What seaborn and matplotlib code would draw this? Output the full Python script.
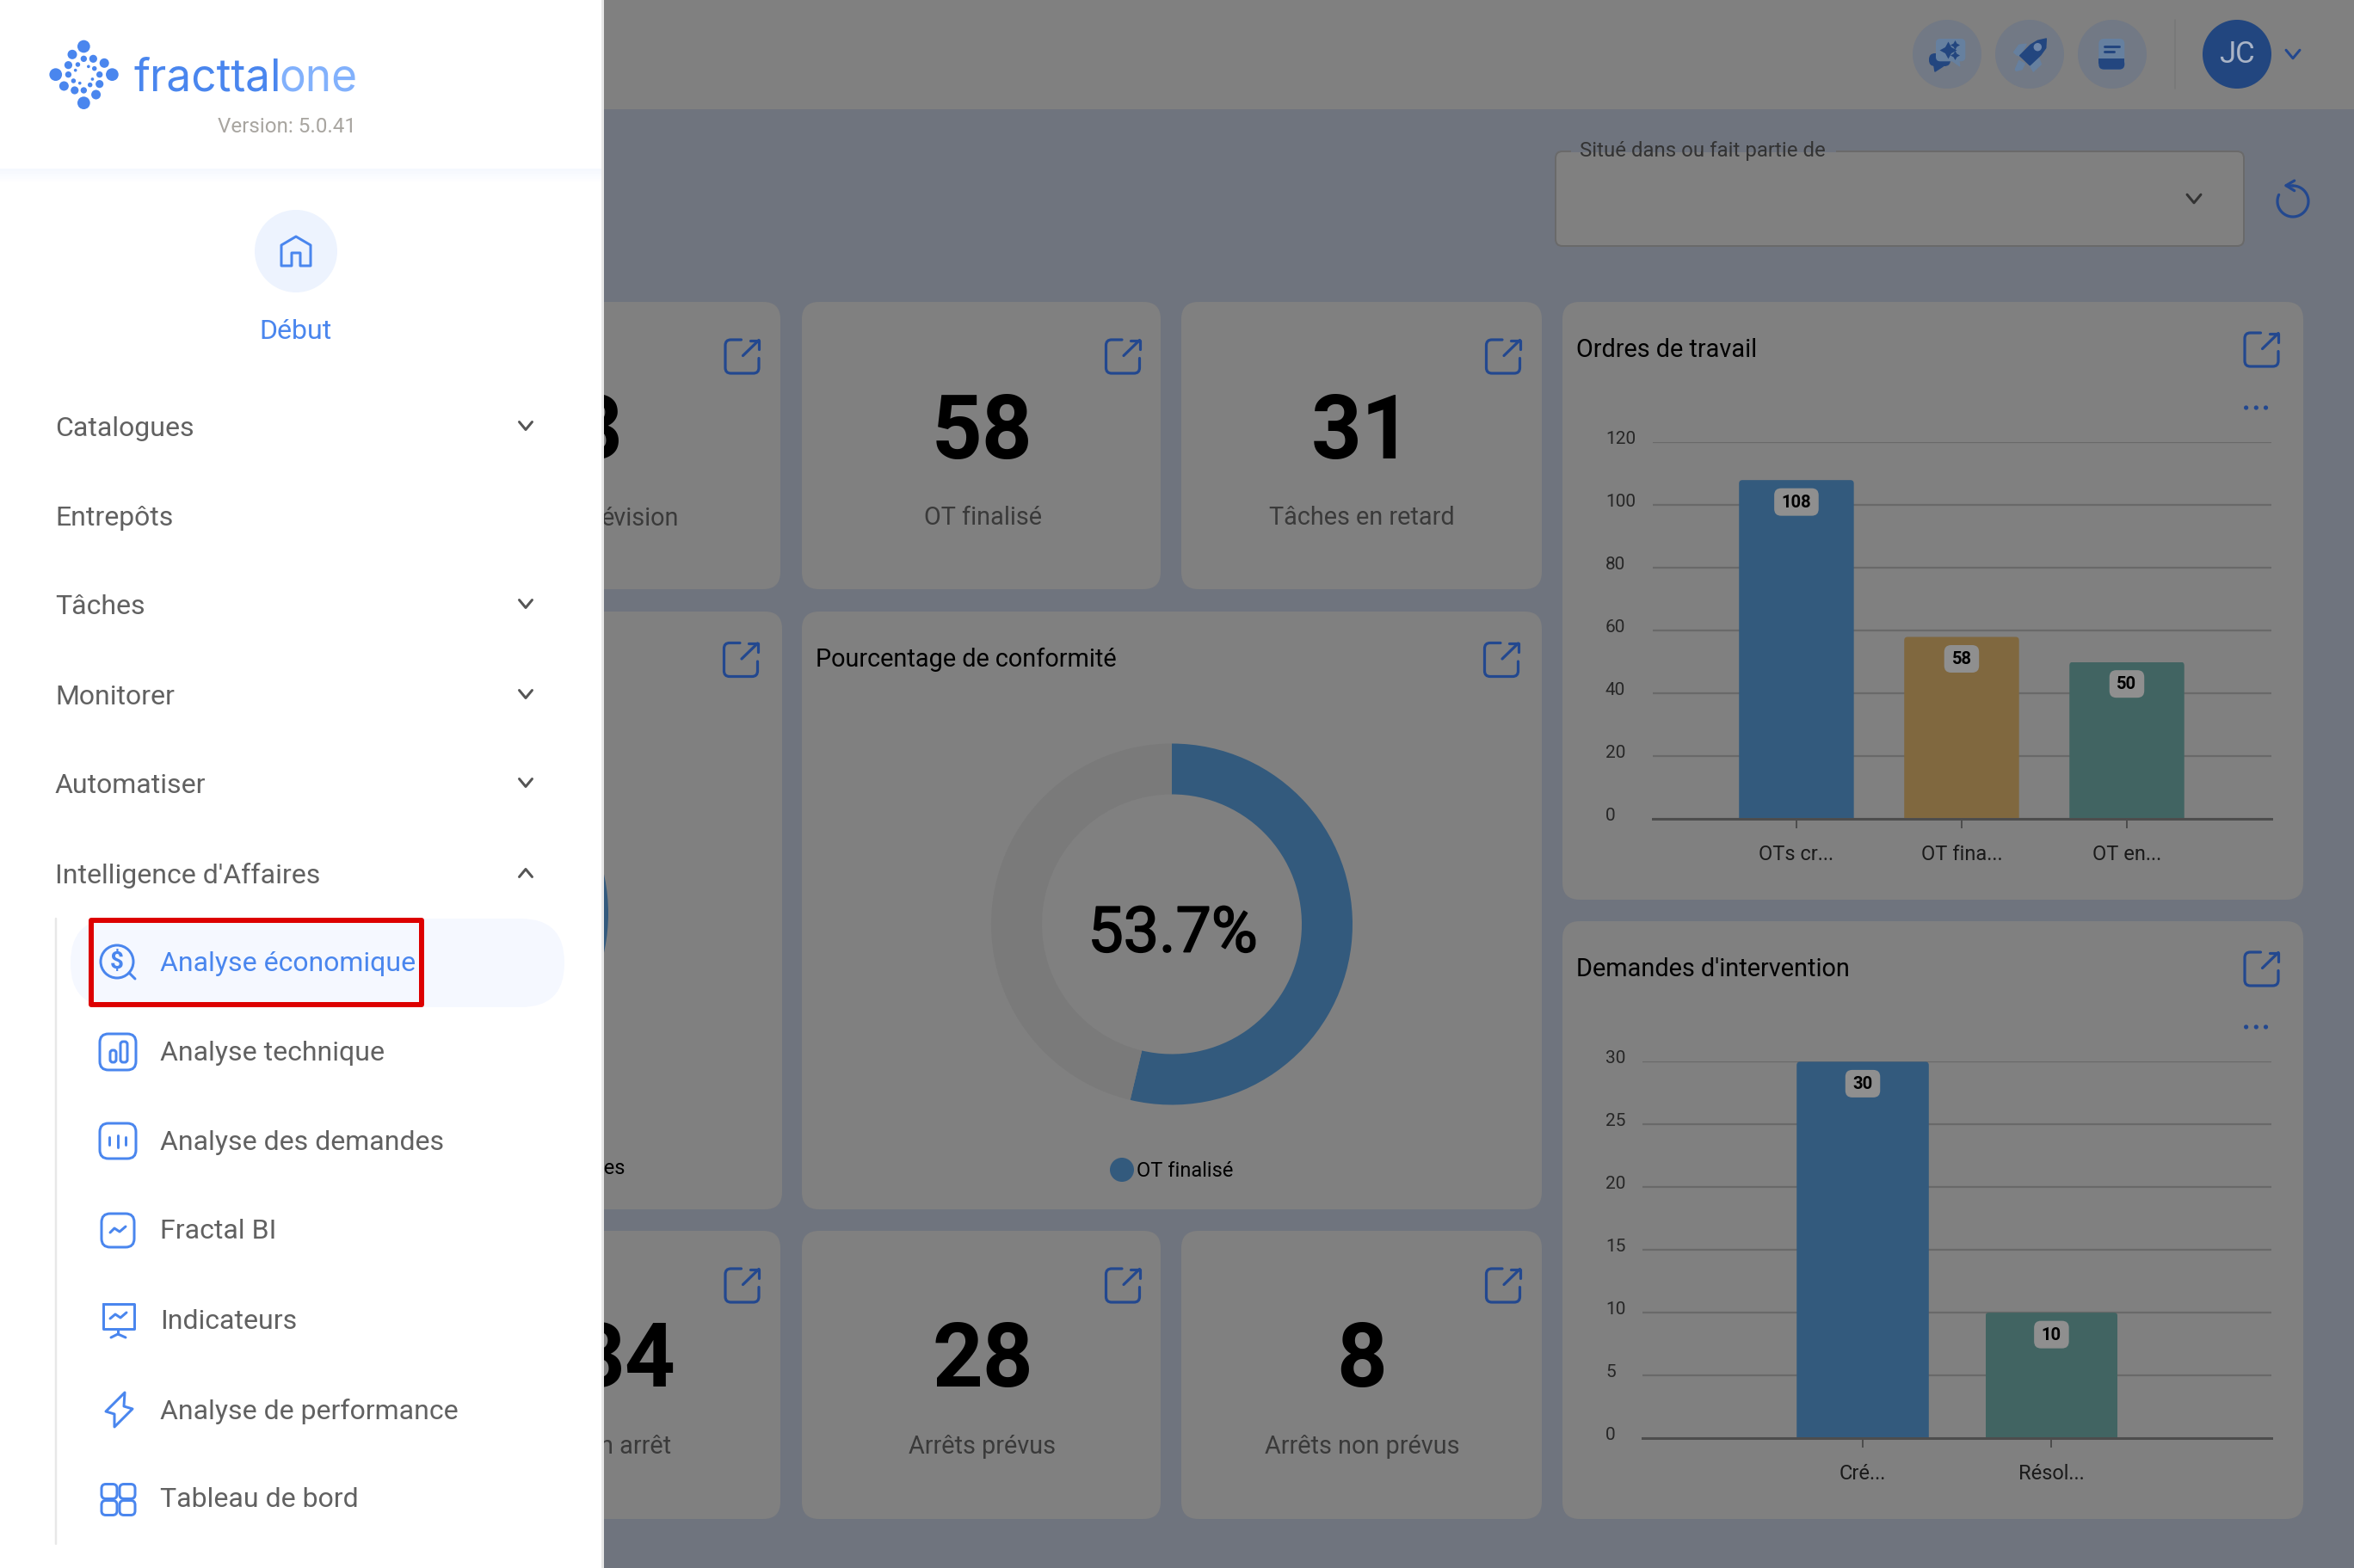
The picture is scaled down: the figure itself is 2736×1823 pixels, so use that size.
import numpy as np
import matplotlib
matplotlib.use("Agg")
import matplotlib.pyplot as plt
from matplotlib.patches import FancyBboxPatch, Rectangle, Circle, Polygon, PathPatch
from matplotlib.path import Path
from matplotlib.transforms import Affine2D, ScaledTranslation, IdentityTransform
import matplotlib.patheffects as pe
import seaborn as sns

# ---------- data ----------
wo_labels = ["OTs cr...", "OT fina...", "OT en..."]
wo_values = [108, 58, 50]
wo_colors = ["#335a7d", "#80683f", "#416462"]
wo_ticks = [0, 20, 40, 60, 80, 100, 120]

di_labels = ["Cré...", "Résol..."]
di_values = [30, 10]
di_colors = ["#335a7d", "#416462"]
di_ticks = [0, 5, 10, 15, 20, 25, 30]

compliance_values = [53.7, 46.3]
compliance_colors = ["#335a7d", "#7a7a7a"]
compliance_text = "53.7%"
compliance_legend = "OT finalisé"

kpi_numbers = ["58", "31", "28", "8"]
kpi_labels = ["OT finalisé", "Tâches en retard", "Arrêts prévus", "Arrêts non prévus"]

main_menu = ["Catalogues", "Entrepôts", "Tâches", "Monitorer", "Automatiser", "Intelligence d'Affaires"]
sub_menu = ["Analyse économique", "Analyse technique", "Analyse des demandes", "Fractal BI",
            "Indicateurs", "Analyse de performance", "Tableau de bord"]

# ---------- palette ----------
BG = "#6f747e"
CARD = "#808080"
GRID = "#696969"
AXISC = "#4d4d4d"
NAVY = "#23488f"
BLUE = "#4a86ee"
GREYT = "#616161"
ICON_DARK = "#23467f"
ICON_LIGHT = "#66809f"
W, H = 2736, 1824

sns.set_theme(style="white")
plt.rcParams["font.family"] = ["Roboto", "DejaVu Sans"]

fig = plt.figure(figsize=(W / 100, H / 100), dpi=100, facecolor=BG)
ui = fig.add_axes([0, 0, 1, 1], zorder=0)
ui.set_xlim(0, W)
ui.set_ylim(H, 0)
ui.axis("off")
ui.autoscale(False)


def px(v):
    return v * 0.72


def T(x, y, s, size, color="black", ha="center", va="center", weight="normal", z=5, family=None):
    kw = {}
    if family:
        kw["family"] = family
    dy = 2.5 if va == "center" else 0
    return ui.text(x, y + dy, s, fontsize=size, color=color, ha=ha, va=va, weight=weight, zorder=z, **kw)


def rbox(x0, y0, x1, y1, r, fc="none", ec="none", lw=0, z=1):
    p = FancyBboxPatch((x0, y0), x1 - x0, y1 - y0, boxstyle=f"round,pad=0,rounding_size={r}",
                       fc=fc, ec=ec, lw=px(lw), zorder=z)
    ui.add_patch(p)
    return p


def rect(x0, y0, x1, y1, fc, z=1):
    ui.add_patch(Rectangle((x0, y0), x1 - x0, y1 - y0, fc=fc, ec="none", zorder=z))


def poly(pts, fc, z=4):
    ui.add_patch(Polygon(pts, closed=True, fc=fc, ec=fc, lw=px(1.5), joinstyle="round", zorder=z))


def line(xs, ys, color, lw=3, z=6):
    ui.plot(xs, ys, color=color, lw=px(lw), solid_capstyle="round", solid_joinstyle="round", zorder=z)


def chevron(x, y, color, up=False, s=7.5, lw=3, z=6):
    d = -s * 0.6 if up else s * 0.6
    line([x - s, x, x + s], [y - d, y + d, y - d], color, lw, z)


def open_icon(cx, cy, color=NAVY):
    v = [(-1, -19.5), (-13, -19.5), (-19.5, -19.5), (-19.5, -13), (-19.5, 13), (-19.5, 19.5), (-13, 19.5),
         (13, 19.5), (19.5, 19.5), (19.5, 13), (19.5, 2)]
    c = [Path.MOVETO, Path.LINETO, Path.CURVE3, Path.CURVE3, Path.LINETO, Path.CURVE3, Path.CURVE3,
         Path.LINETO, Path.CURVE3, Path.CURVE3, Path.LINETO]
    ui.add_patch(PathPatch(Path([(cx + a, cy + b) for a, b in v], c), fc="none", ec=color, lw=px(3.2), zorder=6,
                           capstyle="round"))
    line([cx + 1, cx + 19.5], [cy - 1, cy - 19], color, 3.2)
    line([cx + 9, cx + 19.5, cx + 19.5], [cy - 19, cy - 19, cy - 9], color, 3.2)


# ---------- page skeleton ----------
rect(700, 0, W, 128, CARD)

# cards
for x0, x1, y0, y1 in [(640, 907, 352, 686), (932, 1349, 352, 686), (1373, 1792, 352, 686),
                       (640, 909, 712, 1407), (932, 1792, 712, 1407),
                       (640, 907, 1432, 1767), (932, 1349, 1432, 1767), (1373, 1792, 1432, 1767),
                       (1816, 2677, 352, 1047), (1816, 2677, 1072, 1767)]:
    rbox(x0, y0, x1, y1, 20, fc=CARD)

# KPI numbers and captions (partly hidden behind the side panel)
BIG = 74
BIG_DY = 5
T(724, 497 + BIG_DY, "3", BIG, weight="bold", ha="right")
T(789, 600.5, "évision", 20.8, "#3a3a3a", ha="right")
T(727, 1356.5, "ées", 17, "black", ha="right")
T(786, 1576 + BIG_DY, "34", BIG, weight="bold", ha="right")
T(780, 1680, "n arrêt", 20.8, "#3a3a3a", ha="right")
ui.add_patch(Circle((497, 1063), 210, fc="#335a7d", ec="none", zorder=2))

kpi_x = [1142, 1583, 1142, 1583]
kpi_y = [497, 497, 1576, 1576]
kpi_ly = [599.5, 599.5, 1680, 1680]
for x, y, ly, n, l in zip(kpi_x, kpi_y, kpi_ly, kpi_numbers, kpi_labels):
    T(x, y + BIG_DY, n, BIG, weight="bold")
    T(x, ly, l, 20.8, "#3a3a3a")

for cx, cy in [(862.5, 415.5), (1305, 415.5), (1747, 415.5), (861, 768), (1745, 768),
               (862.5, 1495.5), (1305, 1495.5), (1747, 1495.5), (2628.5, 407.5), (2628.5, 1127.5)]:
    open_icon(cx, cy)

# card titles
T(948, 764.5, "Pourcentage de conformité", 20.8, ha="left")
T(1832, 405, "Ordres de travail", 20.8, ha="left")
T(1832, 1125, "Demandes d'intervention", 20.8, ha="left")
for cy in (475, 1195):
    for dx in (2610.6, 2622.3, 2633.5):
        ui.add_patch(Circle((dx, cy), 2.6, fc=NAVY, ec="none", zorder=6))

# filter box
rbox(1808, 177, 2608, 287, 8, fc=CARD, ec="#6a6a6a", lw=2, z=2)
rect(1826, 165, 2134, 179, BG, z=3)
rect(1826, 178, 2134, 182, CARD, z=3)
T(1836, 173, "Situé dans ou fait partie de", 17.3, "#333333", ha="left")
chevron(2550, 232, "#333333", s=8)
th = np.radians(np.linspace(-90, 205, 80))
line(2665 + 18 * np.cos(th), 235 + 18 * np.sin(th), NAVY, 3.2)
line([2666.7, 2657, 2666.7], [211, 216.7, 222.7], NAVY, 3.2)
line([2657, 2665], [216.7, 217], NAVY, 3.2)

# top-right icons
for cx in (2263, 2359, 2455):
    ui.add_patch(Circle((cx, 64), 40, fc="#727985", ec="none", zorder=2))
# chat
rbox(2242, 63, 2267, 78, 7, fc=ICON_DARK, z=3)
poly([(2247.7, 76), (2249, 84), (2258.3, 78)], ICON_DARK, z=3)
rbox(2250, 46, 2284.3, 72.3, 5, fc=ICON_LIGHT, z=4)
poly([(2268.3, 71), (2277.7, 77.7), (2276.7, 71)], ICON_LIGHT, z=4)
for sx, sy, ms in [(2263.7, 59, 20), (2271.7, 53.3, 11), (2271.7, 65, 11)]:
    ui.plot([sx], [sy], marker=(4, 1, 0), ms=px(ms), color=ICON_DARK, mew=0, zorder=5)
# rocket
poly([(2340.7, 61.7), (2346.7, 53.3), (2355, 52.3), (2347.7, 65.7), (2344.3, 65)], ICON_LIGHT, z=3)
poly([(2369, 66.7), (2372.3, 75.7), (2363.3, 84), (2359.3, 76.7)], ICON_LIGHT, z=3)
poly([(2342.3, 81.7), (2346.7, 71.7), (2353.3, 75), (2350, 81.7), (2343.3, 83.3)], ICON_LIGHT, z=3)
poly([(2347.7, 65.7), (2360, 53.3), (2368.3, 48.3), (2378.3, 46), (2377.7, 56.7), (2371.7, 65), (2359.3, 76.7)],
     ICON_DARK, z=4)
ui.add_patch(Circle((2368.3, 55.7), 4.7, fc="#6f86a8", ec="none", zorder=5))
# book
rbox(2439.3, 46, 2469.3, 81.7, 6, fc=ICON_LIGHT, z=3)
rbox(2439.3, 69.3, 2469.3, 81.7, 6, fc=ICON_DARK, z=4)
rect(2439.3, 69.3, 2469.3, 75, ICON_DARK, z=4)
line([2446, 2462.7], [55, 55], ICON_DARK, 3)
line([2446, 2456.7], [61, 61], ICON_DARK, 3)
line([2528, 2528], [24, 104], "#777878", 1.6, z=2)
ui.add_patch(Circle((2600, 64), 40, fc="#22467f", ec="none", zorder=2))
T(2600, 61, "JC", 25, "#aab4c6")
chevron(2665, 64, NAVY, s=8)

# ---------- side panel ----------
rect(0, 0, 700, H, "white", z=20)
rect(699, 0, 702, H, "#e6e6e6", z=20)
for i, col in enumerate(["#f5f8fe", "#f7f9fe", "#f9fbff", "#fbfcff", "#fdfdff"]):
    rect(0, 197 + i * 3, 699, 200 + i * 3, col, z=21)

Z = 30
# logo (dots)
logo_dots = [(212, 165, 16), (141, 263, 16), (284, 263, 16), (212, 362, 16),
             (183, 193, 12), (264, 223, 12), (243, 333, 12), (162, 303, 12),
             (236, 208, 10), (173, 230, 10), (252, 296, 10), (189, 318, 10),
             (212, 208, 8), (173, 263, 8), (252, 263, 8), (212, 318, 8),
             (197, 228, 6), (239, 242, 6), (228, 299, 6), (186, 285, 6),
             (224, 235, 4), (191, 248, 4), (234, 279, 4), (202, 293, 4)]
for lx, ly, lr in logo_dots:
    ui.add_patch(Circle((lx / 2.178, ly / 3), lr / 2.178, fc="#4a86ee", ec="none", zorder=Z))
T(156, 105.5, "fracttal", 37, BLUE, ha="left", va="baseline", z=Z, family="Inter")
T(324, 105.5, "one", 37, "#82b1fc", ha="left", va="baseline", z=Z, family="Inter")
T(333.5, 144.5, "Version: 5.0.41", 17.4, "#a8a5a0", z=Z)

# home
ui.add_patch(Circle((344, 293), 48, fc="#edf3fe", ec="none", zorder=Z))
home = [(-17, 17), (-17, -7), (0, -17), (17, -7), (17, 17), (5, 17), (5, 2), (-5, 2), (-5, 17)]
ui.add_patch(Polygon([(344 + a, 293 + b) for a, b in home], closed=True, fc="none", ec=BLUE, lw=px(3),
                     joinstyle="round", zorder=Z + 1))
T(344, 383, "Début", 23, BLUE, z=Z)

# main menu
menu_y = [496, 600, 703, 808, 911, 1016]
for y, s in zip(menu_y, main_menu):
    T(64, y, s, 23, GREYT, ha="left", z=Z)
for y in menu_y[0:1] + menu_y[2:5]:
    chevron(611, y, "#555555", s=7.5, z=Z)
chevron(611, menu_y[5], "#555555", up=True, s=7.5, z=Z)

# sub-menu
line([65, 65], [1069, 1796], "#e8e8e8", 2.5, z=Z)
rbox(82, 1069, 656, 1172, 51, fc="#f5f8ff", z=Z)
sub_y = [1118.5, 1222.5, 1326.5, 1429.5, 1534.5, 1638.5, 1741.5]
for i, (y, s) in enumerate(zip(sub_y, sub_menu)):
    T(186, y, s, 23, BLUE if i == 0 else GREYT, ha="left", z=Z + 2)
ui.add_patch(Rectangle((105.5, 1071), 384, 98, fc="none", ec="#dd0000", lw=px(6), zorder=Z + 3, joinstyle="round"))

cx = 137
# icon: dollar search
ui.add_patch(Circle((cx - 1, 1119), 19, fc="none", ec=BLUE, lw=px(3), zorder=Z + 2))
T(cx - 1, 1116, "$", 20, BLUE, weight="bold", z=Z + 2)
line([cx + 13, cx + 20], [1132, 1139], BLUE, 3, z=Z + 2)
# icon: bars
rbox(cx - 21, 1203, cx + 21, 1245, 10, ec=BLUE, lw=3, z=Z + 2)
rbox(cx - 9, 1222, cx - 2, 1236, 3, ec=BLUE, lw=3, z=Z + 2)
rbox(cx + 3, 1212, cx + 11, 1236, 3, ec=BLUE, lw=3, z=Z + 2)
# icon: demandes
rbox(cx - 21, 1307, cx + 21, 1348, 10, ec=BLUE, lw=3, z=Z + 2)
line([cx - 10, cx - 10], [1323, 1332], BLUE, 3, z=Z + 2)
line([cx, cx], [1321, 1335], BLUE, 3, z=Z + 2)
line([cx + 9, cx + 9], [1323, 1332], BLUE, 3, z=Z + 2)
# icon: BI
rbox(cx - 19, 1412, cx + 19, 1451, 10, ec=BLUE, lw=3, z=Z + 2)
line([cx - 9, cx - 4, cx + 2, cx + 9], [1434, 1429, 1433, 1427], BLUE, 3, z=Z + 2)
# icon: indicateurs
line([cx - 17, cx - 17, cx + 19, cx + 19, cx - 17], [1517, 1546, 1546, 1517, 1517], BLUE, 3, z=Z + 2)
line([cx - 9, cx - 3, cx + 3, cx + 10], [1534, 1529, 1533, 1527], BLUE, 3, z=Z + 2)
line([cx, cx], [1546, 1552], BLUE, 3, z=Z + 2)
line([cx - 8, cx, cx + 9], [1556, 1552, 1556], BLUE, 3, z=Z + 2)
# icon: lightning
ui.add_patch(Polygon([(145, 1620), (123, 1642), (133, 1645), (133, 1660), (154, 1639), (144, 1636)], closed=True,
                     fc="none", ec=BLUE, lw=px(3), joinstyle="round", zorder=Z + 2))
# icon: grid
for gx in (cx - 10, cx + 11):
    for gy in (1735, 1754):
        rbox(gx - 9, gy - 8.5, gx + 9, gy + 8.5, 5, ec=BLUE, lw=3, z=Z + 2)


# ---------- charts ----------
def pixel_axes(x0, y0, x1, y1):
    return fig.add_axes([x0 / W, 1 - y1 / H, (x1 - x0) / W, (y1 - y0) / H], zorder=2, facecolor="none")


def bar_chart(box, labels, values, colors, ticks, xlim, width, ymax):
    ax = pixel_axes(*box)
    sns.barplot(x=labels, y=values, hue=labels, palette=colors, legend=False, ax=ax,
                width=width, saturation=1, linewidth=0, zorder=3)
    ax.set_xlim(*xlim)
    ax.set_ylim(0, ymax)
    ax.set_yticks(ticks)
    ax.set_yticklabels([str(t) for t in ticks])
    ax.grid(axis="y", color=GRID, lw=px(2.2))
    ax.grid(axis="x", visible=False)
    ax.set_axisbelow(True)
    sns.despine(ax=ax, left=True)
    ax.spines["bottom"].set_color(AXISC)
    ax.spines["bottom"].set_linewidth(px(3))
    ax.spines["bottom"].set_zorder(4)
    pad = px(box[0] - 1866)
    ax.tick_params(axis="y", length=0, pad=pad, labelsize=15, labelcolor="#262626")
    ax.tick_params(axis="x", length=px(11.5), width=px(2), color=AXISC, pad=px(18), labelsize=17,
                   labelcolor="#1a1a1a", bottom=True)
    off = ScaledTranslation(0, 6.5 / 100, fig.dpi_scale_trans)
    for lab in ax.get_yticklabels():
        lab.set_ha("left")
        lab.set_transform(lab.get_transform() + off)
    # slightly rounded bar corners
    for bar in ax.patches:
        (bx0, by0), (bx1, by1) = ax.transData.transform(
            [(bar.get_x(), 0), (bar.get_x() + bar.get_width(), bar.get_height())])
        bar.set_clip_path(FancyBboxPatch((bx0, by0 - 10), bx1 - bx0, by1 - by0 + 10,
                                         boxstyle="round,pad=0,rounding_size=4", transform=IdentityTransform()))
    # value badges
    for i, v in enumerate(values):
        xd, yd = ax.transData.transform((i, v))
        bw = 51.6 if v >= 100 else 40.5
        ax.add_artist(FancyBboxPatch((-bw / 2, -16), bw, 32, boxstyle="round,pad=0,rounding_size=8",
                                     fc="#8f8f8f", ec="none", zorder=6,
                                     transform=Affine2D().translate(xd, yd - 25.5)))
        ax.annotate(str(v), (i, v), xytext=(0, px(-25)), textcoords="offset points", ha="center",
                    va="center", fontsize=14.5, fontweight="bold", color="black", zorder=7)
    return ax


bar_chart((1920.5, 515.4, 2640, 953), wo_labels, wo_values, wo_colors, wo_ticks, (-0.872, 2.875), 0.695, 120)
bar_chart((1909, 1235.4, 2640, 1673), di_labels, di_values, di_colors, di_ticks, (-1.167, 2.165), 0.70, 30)

donut = pixel_axes(1152, 865.5, 1572, 1285.5)
donut.pie(compliance_values, colors=compliance_colors, startangle=90, counterclock=False,
          radius=1, wedgeprops=dict(width=1 - 151 / 210, linewidth=0))
donut.set_xlim(-1, 1)
donut.set_ylim(-1, 1)
center = donut.text(0.005, -0.055, compliance_text, ha="center", va="center", fontsize=53, color="black")
center.set_path_effects([pe.withStroke(linewidth=1.2, foreground="black")])

ui.add_patch(Circle((1304, 1361), 14, fc=compliance_colors[0], ec="none", zorder=6))
T(1321, 1359.5, compliance_legend, 17, ha="left")

fig.savefig("out.png", dpi=100, facecolor=BG)
